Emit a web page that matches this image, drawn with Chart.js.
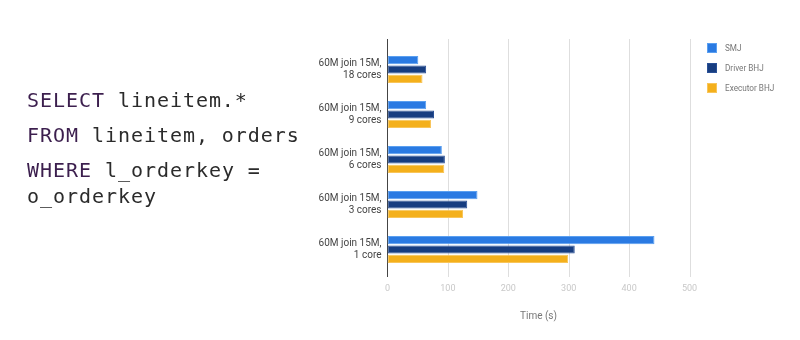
<!DOCTYPE html>
<html>
<head>
<meta charset="utf-8">
<script src="https://cdn.jsdelivr.net/npm/chart.js@4.4.1/dist/chart.umd.min.js"></script>
<style>
  html, body { margin: 0; padding: 0; background: #ffffff; }
  #wrap { position: relative; width: 800px; height: 340px; overflow: hidden; }
  #chart { position: absolute; left: 0; top: 0; }
  #sql {
    position: absolute; left: 27px; top: 87px;
    font-family: "DejaVu Sans Mono", monospace; font-size: 20px;
    letter-spacing: 0.95px; color: #2b2b2b; margin: 0;
  }
  #sql .ln { display: block; width: 300px; line-height: 26px; margin-bottom: 9px; white-space: normal; }
  #sql .kw { color: #3c1f4e; }
  #legend { position: absolute; left: 707px; top: 38px; font-family: Roboto, sans-serif; font-size: 8.2px; color: #777; }
  #legend .item { display: flex; align-items: center; height: 20px; margin-top: 0; }
  #legend .box { width: 10px; height: 10px; margin-right: 8px; box-sizing: border-box; }
</style>
</head>
<body>
<div id="wrap">
  <canvas id="chart" width="800" height="340"></canvas>
  <div id="sql">
    <span class="ln"><span class="kw">SELECT</span> lineitem.*</span>
    <span class="ln"><span class="kw">FROM</span> lineitem, orders</span>
    <span class="ln"><span class="kw">WHERE</span> l_orderkey = o_orderkey</span>
  </div>
  <div id="legend"></div>
</div>
<script>
// Join benchmark: run time in seconds per join strategy and core count
const categories = [
  ['60M join 15M,', '18 cores'],
  ['60M join 15M,', '9 cores'],
  ['60M join 15M,', '6 cores'],
  ['60M join 15M,', '3 cores'],
  ['60M join 15M,', '1 core']
];
const seriesNames = ['SMJ', 'Driver BHJ', 'Executor BHJ'];
const smj = [51, 64, 90, 149, 442];
const driverBhj = [64, 77, 95, 132, 310];
const executorBhj = [58, 72, 94, 125, 299];
const timeTicks = [0, 100, 200, 300, 400, 500];

const fills = ['#2a7ae2', '#173d80', '#f4b01c'];
const edges = ['#5a9ff0', '#2a5096', '#f8c55a'];
const values = [smj, driverBhj, executorBhj];

const datasets = seriesNames.map((name, i) => ({
  label: name,
  data: values[i],
  backgroundColor: fills[i],
  borderColor: edges[i],
  borderWidth: 1,
  borderSkipped: false,
  categoryPercentage: 0.62,
  barPercentage: 0.88
}));

// Full-height vertical grid and left axis line
const gridPlugin = {
  id: 'tallGrid',
  beforeDatasetsDraw(chart) {
    const { ctx } = chart;
    const xs = chart.scales.x;
    const top = 39, bottom = 277;
    ctx.save();
    ctx.lineWidth = 1;
    timeTicks.forEach(v => {
      if (v === 0) return;
      const px = Math.round(xs.getPixelForValue(v)) + 0.5;
      ctx.strokeStyle = '#dedede';
      ctx.beginPath(); ctx.moveTo(px, top); ctx.lineTo(px, bottom); ctx.stroke();
    });
    const x0 = Math.round(xs.getPixelForValue(0)) - 0.5;
    ctx.strokeStyle = '#444';
    ctx.beginPath(); ctx.moveTo(x0, top); ctx.lineTo(x0, bottom); ctx.stroke();
    ctx.restore();
  }
};

const chart = new Chart(document.getElementById('chart'), {
  type: 'bar',
  data: { labels: categories, datasets },
  options: {
    indexAxis: 'y',
    responsive: false,
    animation: false,
    layout: { padding: { left: 290, right: 110.5, top: 47, bottom: 0 } },
    plugins: { legend: { display: false }, tooltip: { enabled: false } },
    scales: {
      x: {
        min: 0, max: 500,
        afterBuildTicks(scale) { scale.ticks = timeTicks.map(v => ({ value: v })); },
        afterFit(scale) { scale.height = 68; },
        grid: { display: false, drawTicks: false },
        border: { display: false },
        ticks: { padding: 11, color: '#c8c8c8', font: { family: 'Roboto', size: 9 } },
        title: {
          display: true, text: 'Time (s)', color: '#777',
          font: { family: 'Roboto', size: 10 }, padding: { top: 0, bottom: 18 }
        }
      },
      y: {
        afterFit(scale) { scale.width = 97.5; },
        grid: { display: false, drawTicks: false },
        border: { display: false },
        ticks: { padding: 6, color: '#444', font: { family: 'Roboto', size: 10 } }
      }
    }
  },
  plugins: [gridPlugin]
});

// Legend built from the chart's datasets
const legend = document.getElementById('legend');
chart.data.datasets.forEach(ds => {
  const item = document.createElement('div');
  item.className = 'item';
  const box = document.createElement('span');
  box.className = 'box';
  box.style.background = ds.backgroundColor;
  box.style.border = '1px solid ' + ds.borderColor;
  const txt = document.createElement('span');
  txt.textContent = ds.label;
  item.appendChild(box); item.appendChild(txt);
  legend.appendChild(item);
});
</script>
</body>
</html>
